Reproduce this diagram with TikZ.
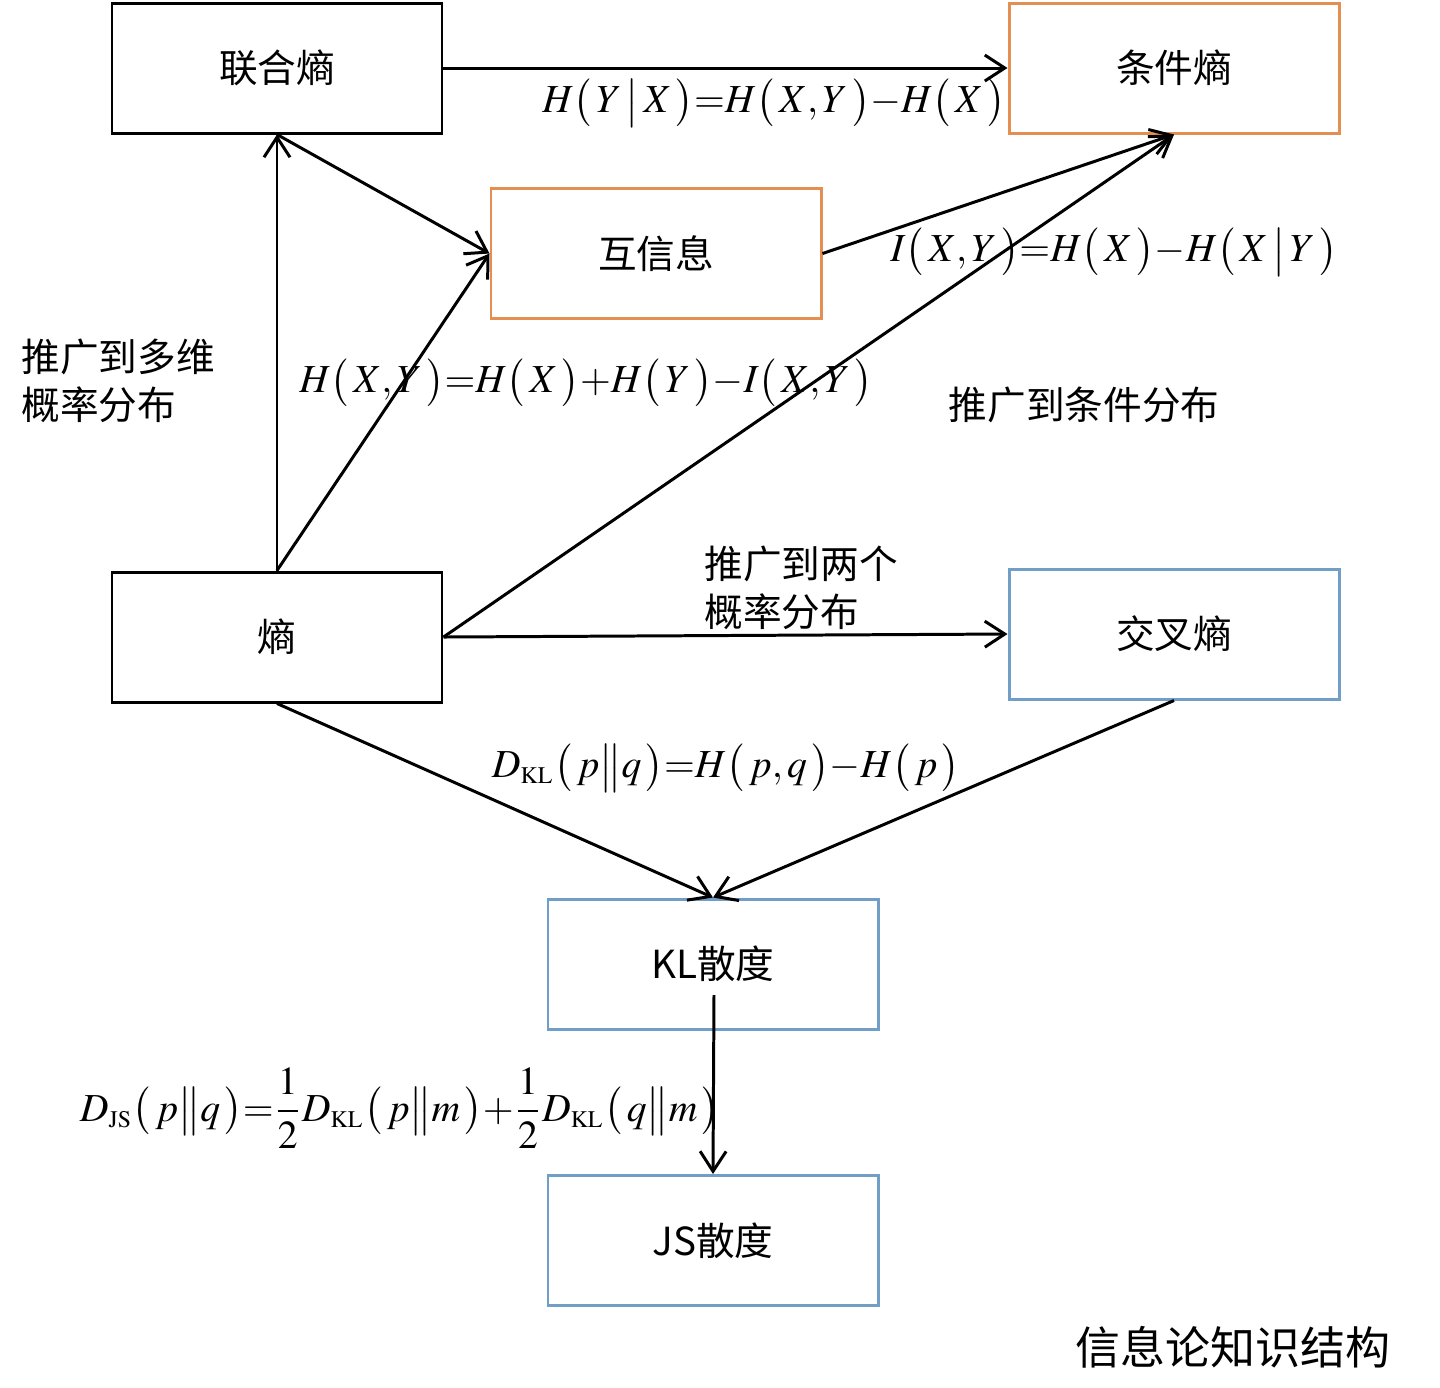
\documentclass[tikz,border=0pt]{standalone}
\usepackage{amsmath}
\usepackage{mathptmx}
\usepackage[no-math]{fontspec}
\setmainfont{Noto Sans CJK SC}
\usetikzlibrary{arrows.meta}

\definecolor{boxorange}{RGB}{228,142,82}
\definecolor{boxblue}{RGB}{112,158,198}
\newcommand{\fpar}[1]{\bigl(\,#1\,\bigr)}
\newcommand{\fsub}[1]{_{\scriptscriptstyle\mathrm{#1}}}

\begin{document}
\begin{tikzpicture}[
    >={Straight Barb[length=2mm, width=2.6mm]},
    box/.style={rectangle, draw, line width=0.85pt, minimum width=3.3cm, minimum height=1.3cm, font=\fontsize{11}{13}\selectfont},
    link/.style={->, line width=0.85pt},
    formula/.style={font=\fontsize{11.3}{14}\selectfont, inner sep=1pt},
    note/.style={font=\fontsize{11}{13.6}\selectfont, align=left}
]
\useasboundingbox (0,0) rectangle (14.4,-13.87);

\node[box] (joint) at (2.77,-0.68) {联合熵};
\node[box, draw=boxorange] (cond) at (11.74,-0.68) {条件熵};
\node[box, draw=boxorange] (mutual) at (6.56,-2.535) {互信息};
\node[box] (ent) at (2.77,-6.37) {熵};
\node[box, draw=boxblue] (cross) at (11.74,-6.34) {交叉熵};
\node[box, draw=boxblue] (kl) at (7.13,-9.64) {KL散度};
\node[box, draw=boxblue] (js) at (7.13,-12.405) {JS散度};
\coordinate (klout) at (7.14,-9.95);

\draw[link] (joint) -- (cond);
\draw[link] (ent.north) -- (joint.south);
\draw[link] (ent.north) -- (mutual.west);
\draw[link] (joint.south) -- (mutual.west);
\draw[link] (mutual.east) -- (cond.south);
\draw[link] (ent.east) -- (cond.south);
\draw[link] (ent.east) -- (cross.west);
\draw[link] (ent.south) -- (kl.north);
\draw[link] (cross.south) -- (kl.north);
\draw[link] (klout) -- (js.north);

% Formulas
\node[formula] (fcond) at (7.74,-1.03) {$H\fpar{Y\,\big|\,X}{=}H\fpar{X,Y}{-}H\fpar{X}$};
\node[formula] (fmutual) at (11.14,-2.52) {$I\fpar{X,Y}{=}H\fpar{X}{-}H\fpar{X\,\big|\,Y}$};
\node[formula] (fjoint) at (5.86,-3.83) {$H\fpar{X,Y}{=}H\fpar{X}{+}H\fpar{Y}{-}I\fpar{X,Y}$};
\node[formula] (fkl) at (7.26,-7.68) {$D\fsub{KL}\fpar{p\big\|q}{=}H\fpar{p,q}{-}H\fpar{p}$};
\node[formula] (fjs) at (4.00,-11.08) {$D\fsub{JS}\fpar{p\big\|q}{=}\dfrac{1}{2}D\fsub{KL}\fpar{p\big\|m}{+}\dfrac{1}{2}D\fsub{KL}\fpar{q\big\|m}$};

% Annotations
\node[note, anchor=west] (multi) at (0.09,-3.81) {推广到多维\\概率分布};
\node[note] (condnote) at (10.84,-4.05) {推广到条件分布};
\node[note, anchor=west] (twonote) at (6.92,-5.88) {推广到两个\\概率分布};
\node[font=\fontsize{12.8}{15}\selectfont] (title) at (12.33,-13.47) {信息论知识结构};

\end{tikzpicture}
\end{document}
